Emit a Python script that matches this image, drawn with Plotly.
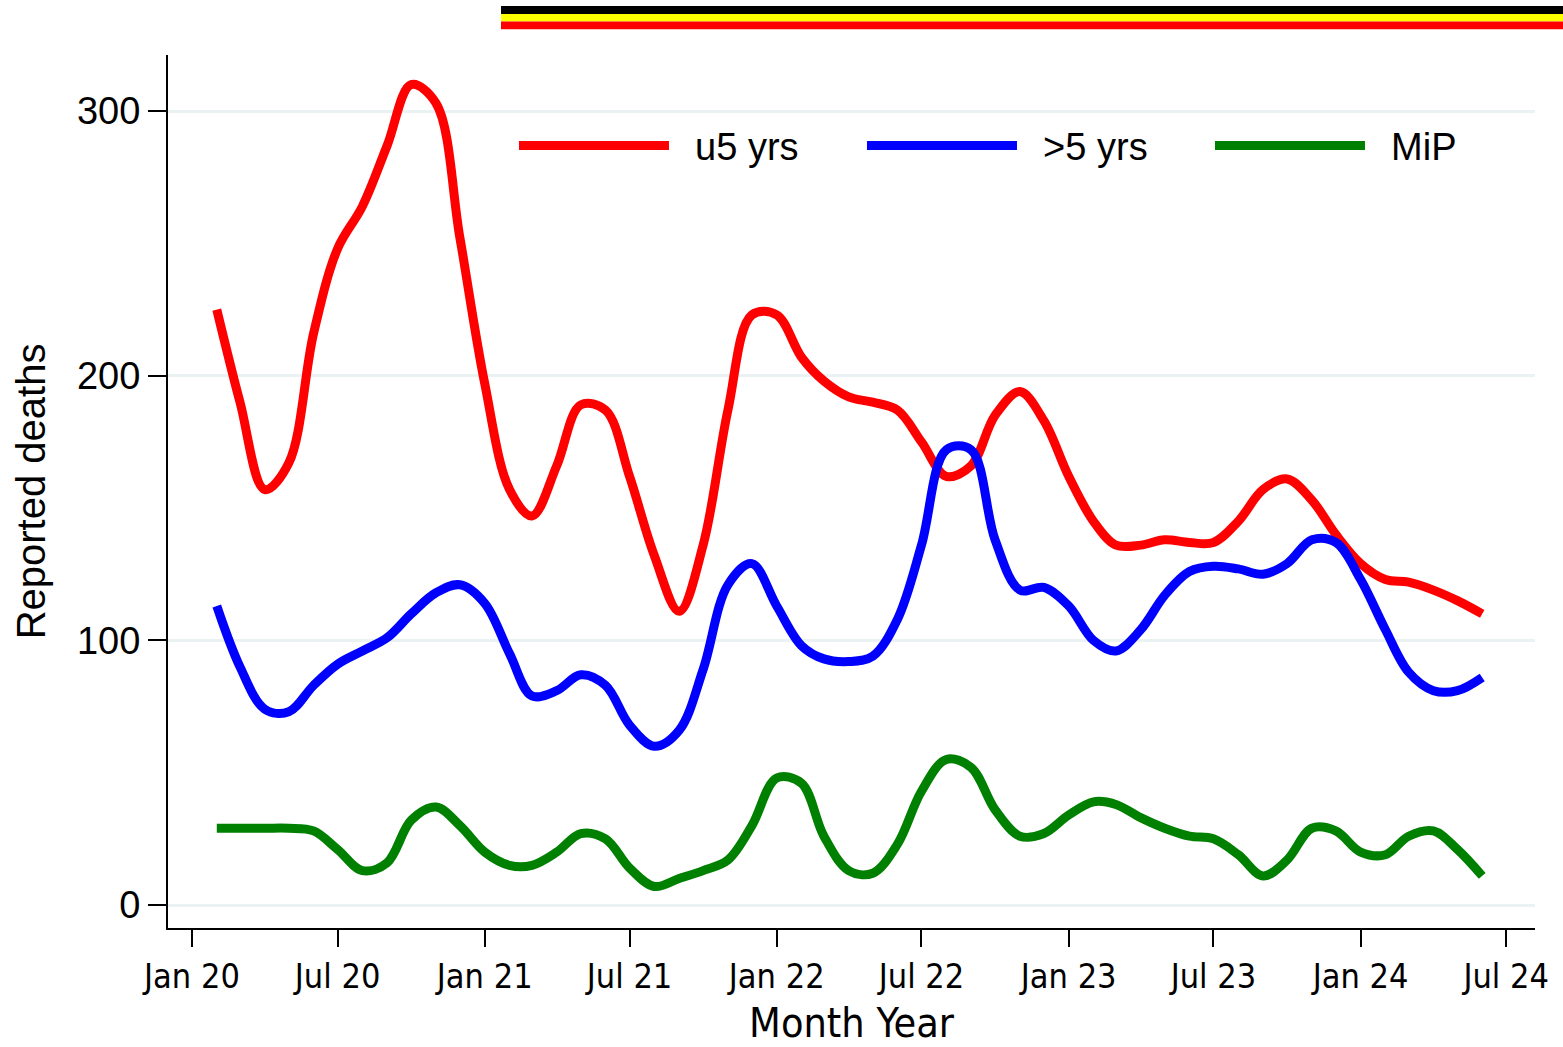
import pandas as pd
import plotly.graph_objects as go

# Monthly reported deaths, Feb 2020 - Jun 2024
months = pd.date_range("2020-02-01", "2024-06-01", freq="MS")

under5 = [225, 190, 157, 167, 216, 248, 264, 287, 310, 303, 252, 197, 157,
          147, 166, 189, 187, 162, 132, 111, 136, 187, 223, 223, 207, 198,
          192, 190, 187, 175, 162, 166, 185, 194, 183, 162, 145, 136, 136,
          138, 137, 137, 145, 157, 161, 153, 140, 129, 123, 122, 119, 115, 110]

over5 = [113, 90, 74, 73, 83, 91, 96, 101, 110, 118, 121, 114, 95,
         79, 81, 87, 83, 68, 60, 66, 89, 121, 129, 113, 98, 93,
         92, 94, 108, 136, 172, 172, 138, 119, 120, 113, 100, 96, 104,
         117, 126, 128, 127, 125, 129, 138, 137, 123, 104, 88, 81, 81, 86]

mip = [29, 29, 29, 29, 28, 21, 13, 16, 32, 37, 30, 20, 15,
       15, 20, 27, 25, 14, 7, 10, 13, 17, 30, 48, 46, 26,
       13, 12, 23, 43, 55, 52, 36, 26, 27, 34, 39, 38, 33,
       29, 26, 25, 19, 11, 17, 29, 28, 20, 19, 26, 28, 21, 11]

series_names = ["u5 yrs", ">5 yrs", "MiP"]
series_values = [under5, over5, mip]
series_colors = ["#ff0000", "#0000ff", "#008000"]

y_ticks = [0, 100, 200, 300]
x_tick_dates = pd.date_range("2020-01-01", "2024-07-01", freq="6MS")
x_tick_labels = [d.strftime("%b %y") for d in x_tick_dates]

fig = go.Figure()
for name, vals, col in zip(series_names, series_values, series_colors):
    fig.add_trace(go.Scatter(
        x=months, y=vals, name="\u00a0\u00a0" + name, mode="lines",
        line=dict(color=col, width=9, shape="spline", smoothing=1.0),
    ))

narrow = "Liberation Sans Narrow, Arial Narrow, DejaVu Sans Condensed, Liberation Sans, sans-serif"
regular = "Liberation Sans, Arial, sans-serif"

fig.update_layout(
    width=1563, height=1047,
    margin=dict(l=168, r=28, t=55, b=119, autoexpand=False),
    paper_bgcolor="white", plot_bgcolor="white",
    showlegend=True,
    legend=dict(
        orientation="h", x=0.2531, y=0.896, xanchor="left", yanchor="middle",
        itemwidth=150, entrywidth=183, entrywidthmode="pixels",
        font=dict(family=regular, size=38, color="black"),
        bgcolor="rgba(0,0,0,0)", itemclick=False,
    ),
    xaxis=dict(
        range=["2019-12-02", "2024-08-06"],
        tickvals=x_tick_dates, ticktext=x_tick_labels,
        ticks="outside", ticklen=17, tickwidth=2, tickcolor="black",
        showline=True, linecolor="black", linewidth=2,
        showgrid=False, zeroline=False, automargin=False,
        tickfont=dict(family=narrow, size=34, color="black"),
        title=dict(text="Month Year", standoff=25,
                   font=dict(family=narrow, size=41, color="black")),
    ),
    yaxis=dict(
        range=[-8.69, 321.2],
        tickvals=y_ticks,
        ticks="outside", ticklen=18, tickwidth=2, tickcolor="black",
        showline=True, linecolor="black", linewidth=2,
        showgrid=True, gridcolor="#eaf2f3", gridwidth=2.5,
        zeroline=False, automargin=False,
        tickfont=dict(family=regular, size=38, color="black"),
        title=dict(text="Reported deaths", standoff=19,
                   font=dict(family=regular, size=40, color="black")),
    ),
)

# Tricolour banner across the top
stripes = [("black", 1.0561, 1.0470), ("#ffff00", 1.0470, 1.0384), ("#ff0000", 1.0384, 1.0294)]
for col, top, bottom in stripes:
    fig.add_shape(type="rect", xref="paper", yref="paper",
                  x0=0.2436, x1=1.03, y0=bottom, y1=top,
                  fillcolor=col, line=dict(width=0), layer="above")

fig.write_html("out.html")
